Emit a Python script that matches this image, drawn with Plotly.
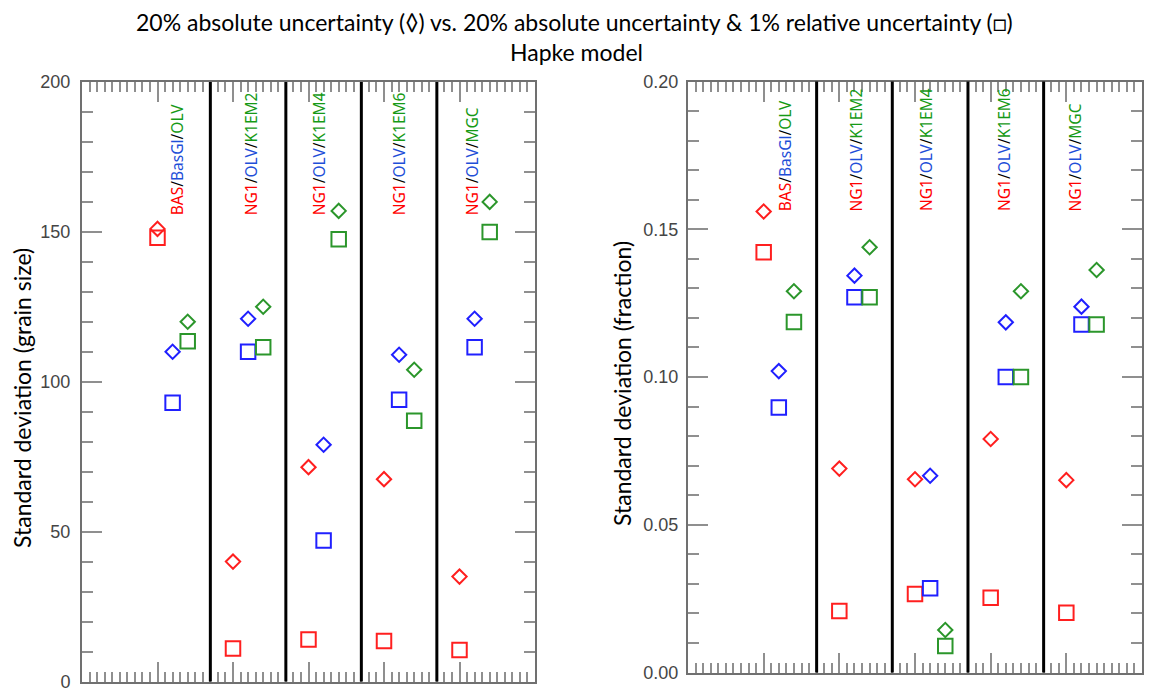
import plotly.graph_objects as go

# Mixture groups: three end-members per group (red / blue / green)
groups = [
    ("BAS", "BasGl", "OLV"),
    ("NG1", "OLV", "K1EM2"),
    ("NG1", "OLV", "K1EM4"),
    ("NG1", "OLV", "K1EM6"),
    ("NG1", "OLV", "MGC"),
]
group_pos = [1, 2, 3, 4, 5]
slot_offset = [0.0, 0.2, 0.4]
group_edges = [1.7, 2.7, 3.7, 4.7]
label_x_grain = [1.27, 2.25, 3.15, 4.21, 5.17]
label_x_frac = [1.28, 2.22, 3.14, 4.17, 5.12]

# Standard deviation of grain size
grain_abs_1 = [151, 40, 71.5, 67.5, 35]
grain_abs_2 = [110, 121, 79, 109, 121]
grain_abs_3 = [120, 125, 157, 104, 160]
grain_rel_1 = [148, 11, 14, 13.5, 10.5]
grain_rel_2 = [93, 110, 47, 94, 111.5]
grain_rel_3 = [113.5, 111.5, 147.5, 87, 150]

# Standard deviation of abundance fraction
frac_abs_1 = [0.156, 0.069, 0.0654, 0.079, 0.0651]
frac_abs_2 = [0.102, 0.1343, 0.0666, 0.1185, 0.1238]
frac_abs_3 = [0.129, 0.1439, 0.0144, 0.129, 0.1362]
frac_rel_1 = [0.1422, 0.0208, 0.0266, 0.0253, 0.0202]
frac_rel_2 = [0.0897, 0.127, 0.0285, 0.100, 0.1178]
frac_rel_3 = [0.1186, 0.127, 0.009, 0.100, 0.1178]

marker_colors = ["#ff1f1f", "#2020ff", "#2b962b"]
label_colors = ["#ff0000", "#1f4fd8", "#169a16"]

W, H = 1152, 693


def px_x(a, b):
    return [a / W, b / W]


def px_y(top, bottom):
    return [1 - bottom / H, 1 - top / H]


fig = go.Figure()

panels = [
    dict(xa="x", ya="y",
         abs_vals=[grain_abs_1, grain_abs_2, grain_abs_3],
         rel_vals=[grain_rel_1, grain_rel_2, grain_rel_3],
         label_x=label_x_grain, label_y=155),
    dict(xa="x2", ya="y2",
         abs_vals=[frac_abs_1, frac_abs_2, frac_abs_3],
         rel_vals=[frac_rel_1, frac_rel_2, frac_rel_3],
         label_x=label_x_frac, label_y=0.1555),
]

for p in panels:
    for k in range(3):
        xs = [g + slot_offset[k] for g in group_pos]
        fig.add_trace(go.Scatter(
            x=xs, y=p["abs_vals"][k], mode="markers", xaxis=p["xa"], yaxis=p["ya"],
            marker=dict(symbol="diamond-open", size=11, color=marker_colors[k],
                        line=dict(width=2, color=marker_colors[k])),
            showlegend=False, hoverinfo="x+y"))
        fig.add_trace(go.Scatter(
            x=xs, y=p["rel_vals"][k], mode="markers", xaxis=p["xa"], yaxis=p["ya"],
            marker=dict(symbol="square-open", size=14.5, color=marker_colors[k],
                        line=dict(width=2, color=marker_colors[k])),
            showlegend=False, hoverinfo="x+y"))
    for e in group_edges:
        fig.add_shape(type="line", xref=p["xa"], yref=p["ya"] + " domain",
                      x0=e, x1=e, y0=0, y1=1,
                      line=dict(color="black", width=3), layer="above")
    for g, names, lx in zip(group_pos, groups, p["label_x"]):
        parts = [f'<span style="color:{label_colors[i]}">{n}</span>'
                 for i, n in enumerate(names)]
        fig.add_annotation(
            x=lx, y=p["label_y"], xref=p["xa"], yref=p["ya"],
            text="/".join(parts), textangle=-90, showarrow=False,
            xanchor="center", yanchor="bottom",
            font=dict(family="Noto Sans", size=15.5, color="black"))

axis_common = dict(
    showgrid=False, zeroline=False, showline=True, linecolor="#707070", linewidth=2,
    mirror="ticks", ticks="inside", tickcolor="#8f8f8f", tickwidth=2, ticklen=20,
    automargin=False,
)
x_common = dict(axis_common, range=[0, 6], tick0=0, dtick=1, showticklabels=False,
                minor=dict(ticks="inside", dtick=0.1, ticklen=10,
                           tickcolor="#8f8f8f", tickwidth=2))
tick_font = dict(family="Liberation Sans", size=18, color="#454545")

fig.update_layout(
    width=W, height=H, margin=dict(l=0, r=0, t=0, b=0, pad=0),
    paper_bgcolor="white", plot_bgcolor="white",
    xaxis=dict(x_common, domain=px_x(82, 535), anchor="y"),
    yaxis=dict(axis_common, domain=px_y(82, 681.5), anchor="x", range=[0, 200],
               tick0=0, dtick=50, tickfont=tick_font, ticklabelstandoff=6,
               minor=dict(ticks="inside", dtick=10, ticklen=11,
                          tickcolor="#8f8f8f", tickwidth=2)),
    xaxis2=dict(x_common, domain=px_x(688, 1142), anchor="y2"),
    yaxis2=dict(axis_common, domain=px_y(81.5, 672.5), anchor="x2", range=[0, 0.2],
                tick0=0, dtick=0.05, tickformat=".2f", tickfont=tick_font,
                ticklabelstandoff=4,
                minor=dict(ticks="inside", dtick=0.01, ticklen=11,
                           tickcolor="#8f8f8f", tickwidth=2)),
)

title_font = dict(family="Lato", size=23, color="black")
fig.add_annotation(
    x=574 / W, y=1 - 22 / H, xref="paper", yref="paper", showarrow=False,
    text="20% absolute uncertainty (\u25ca) vs. 20% absolute uncertainty &amp; "
         "1% relative uncertainty (\u25a1)",
    font=title_font, xanchor="center", yanchor="middle")
fig.add_annotation(
    x=576 / W, y=1 - 52 / H, xref="paper", yref="paper", showarrow=False,
    text="Hapke model", font=title_font, xanchor="center", yanchor="middle")

fig.add_annotation(
    x=22 / W, y=1 - 398 / H, xref="paper", yref="paper", showarrow=False,
    text="Standard deviation (grain size)", textangle=-90,
    font=title_font, xanchor="center", yanchor="middle")
fig.add_annotation(
    x=622 / W, y=1 - 384 / H, xref="paper", yref="paper", showarrow=False,
    text="Standard deviation (fraction)", textangle=-90,
    font=title_font, xanchor="center", yanchor="middle")

fig.write_html("out.html")
